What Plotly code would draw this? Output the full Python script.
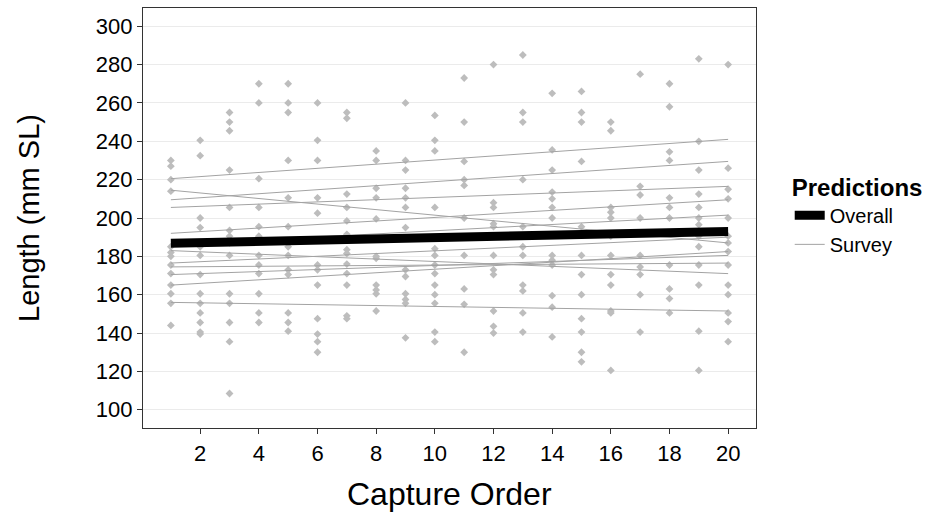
import plotly.graph_objects as go

# Fish standard length (mm SL) recorded at each capture order 1..20
order_01 = [230, 227, 220, 214, 185, 182, 180, 175.5, 171, 165, 160.5, 155.5, 144]
order_02 = [240.5, 232.5, 200, 195, 185, 180.5, 170.5, 160.5, 155.5, 150.5, 145.5, 140.5, 139.5]
order_03 = [255, 250, 245.5, 225, 205.5, 193.5, 190.5, 187, 180.5, 160.5, 155.5, 145.5, 135.5, 108.5]
order_04 = [270, 260, 220.5, 205.5, 195.5, 190.5, 180.5, 175.5, 171, 160.5, 150.5, 145.5]
order_05 = [270, 260, 255, 230, 210.5, 195.5, 185, 180.5, 173, 170.5, 150.5, 145.5, 141]
order_06 = [260, 240.5, 230, 210.5, 202.5, 175.5, 173, 165, 147.5, 139.5, 135.5, 130]
order_07 = [255, 252, 212.5, 205.5, 198.5, 191.5, 183.5, 181.5, 176, 171, 165, 149, 147.5]
order_08 = [235, 230, 215.5, 210.5, 199.5, 180, 179, 165, 162.5, 160.5, 151.5]
order_09 = [260, 230, 225, 215.5, 210.5, 205.5, 195, 173, 169.5, 160.5, 157.5, 155.5, 137.5]
order_10 = [253.5, 240.5, 235, 205.5, 184, 180.5, 175.5, 171, 165, 160, 155.5, 140.5, 135.5]
order_11 = [273, 250, 229.5, 220, 217, 200, 180.5, 163, 155, 130]
order_12 = [280, 208, 205.5, 197, 195.5, 180.5, 173, 170.5, 151.5, 143.5, 140]
order_13 = [285, 255, 250, 220, 195.5, 185, 180.5, 165, 162, 150.5, 140.5]
order_14 = [265, 235.5, 225, 213.5, 210, 205.5, 200, 180.5, 178, 175.5, 159.5, 153.5, 138]
order_15 = [266, 255, 250, 229.5, 195.5, 180.5, 170.5, 160, 147.5, 140.5, 130, 125]
order_16 = [250, 245.5, 205.5, 203, 200, 190.5, 180.5, 170.5, 165, 151.5, 150.5, 120.5]
order_17 = [275, 216.5, 212, 200, 180.5, 174.5, 170.5, 160, 140.5]
order_18 = [270, 258, 234.5, 230, 210.5, 205.5, 200, 175.5, 163, 158, 150.5]
order_19 = [283, 240, 225, 212.5, 205.5, 200, 196.5, 190.5, 185, 175.5, 165, 141, 120.5]
order_20 = [280, 226, 215, 210, 200, 190.5, 187, 182.5, 175.5, 165, 160, 150.5, 146, 135.5]

# Predicted length at the first and last capture order
pred_orders = [1, 20]
overall_pred = [186.8, 193.0]
survey_start = [220.5, 209.5, 214.5, 205.5, 192, 186, 183, 176.5, 174.5, 170.5, 165, 156]
survey_end = [241, 229.5, 187, 216.5, 209.5, 201.5, 171, 190, 176.5, 180.5, 182.5, 151.5]

x_ticks = [2, 4, 6, 8, 10, 12, 14, 16, 18, 20]
y_ticks = [100, 120, 140, 160, 180, 200, 220, 240, 260, 280, 300]

by_order = [order_01, order_02, order_03, order_04, order_05, order_06, order_07,
            order_08, order_09, order_10, order_11, order_12, order_13, order_14,
            order_15, order_16, order_17, order_18, order_19, order_20]
pts_x, pts_y = [], []
for i, vals in enumerate(by_order, start=1):
    pts_x += [i] * len(vals)
    pts_y += vals

FONT = "Liberation Sans, Arial, sans-serif"
fig = go.Figure()

fig.add_trace(go.Scatter(
    x=pts_x, y=pts_y, mode="markers", showlegend=False, hoverinfo="skip",
    marker=dict(symbol="diamond", size=6, color="#bdbdbd", line=dict(width=0)),
))

for k, (a, b) in enumerate(zip(survey_start, survey_end)):
    fig.add_trace(go.Scatter(
        x=pred_orders, y=[a, b], mode="lines", name="Survey",
        legendgroup="survey", showlegend=(k == 0), legendrank=2,
        line=dict(color="#a3a3a3", width=1),
    ))

fig.add_trace(go.Scatter(
    x=pred_orders, y=overall_pred, mode="lines", name="Overall", legendrank=1,
    line=dict(color="black", width=9),
))

fig.update_layout(
    width=943, height=512,
    margin=dict(l=143, r=187, t=8, b=84),
    paper_bgcolor="white", plot_bgcolor="white",
    font=dict(family=FONT, color="black"),
    legend=dict(
        x=1.055, xanchor="left", y=0.627, yanchor="top",
        title=dict(text="<b>Predictions</b>", font=dict(size=24, family=FONT)),
        font=dict(size=20, family=FONT), tracegroupgap=0, itemwidth=30,
        bgcolor="rgba(0,0,0,0)",
    ),
    xaxis=dict(
        range=[0.05, 20.95], tickvals=x_ticks, showgrid=False, zeroline=False,
        ticks="outside", ticklen=5, tickcolor="#333333",
        tickfont=dict(size=22, family=FONT, color="black"),
        showline=True, linecolor="#333333", linewidth=1.2, mirror=True,
    ),
    yaxis=dict(
        range=[90.5, 309.5], tickvals=y_ticks, showgrid=True, gridcolor="#ebebeb",
        gridwidth=1, zeroline=False, ticks="outside", ticklen=5, tickcolor="#333333",
        tickfont=dict(size=22, family=FONT, color="black"),
        showline=True, linecolor="#333333", linewidth=1.2, mirror=True,
    ),
    annotations=[
        dict(text="Capture Order", xref="paper", yref="paper", x=0.5, y=0,
             yshift=-66, yanchor="middle", showarrow=False,
             font=dict(size=32, family=FONT, color="black")),
        dict(text="Length (mm SL)", xref="paper", yref="paper", x=0, y=0.5,
             xshift=-114, xanchor="center", textangle=-90, showarrow=False,
             font=dict(size=29, family=FONT, color="black")),
    ],
)

fig.write_html("out.html")
